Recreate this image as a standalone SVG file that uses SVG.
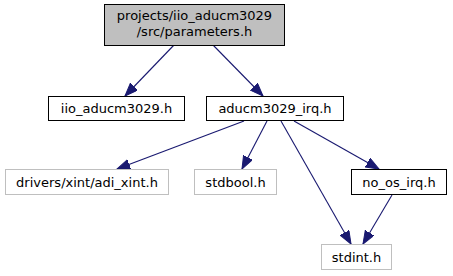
<svg xmlns="http://www.w3.org/2000/svg" width="453" height="276" viewBox="0 0 453 276">
  <style>
    .node rect { fill: #ffffff; stroke-width: 1; }
    .main rect { fill: #bfbfbf; stroke: #000000; }
    .black rect { stroke: #000000; }
    .grey rect { stroke: #bfbfbf; }
    text { font-family: "DejaVu Sans", "Liberation Sans", sans-serif; font-size: 13px; fill: #000000; text-anchor: middle; }
    .edge { stroke: #191970; stroke-width: 1.1; fill: none; marker-end: url(#arrow); }
  </style>
  <defs>
    <marker id="arrow" markerUnits="userSpaceOnUse" markerWidth="14" markerHeight="11" refX="13" refY="5" orient="auto">
      <path d="M0,0 L13,5 L0,10 z" fill="#191970" stroke="#191970" stroke-width="1"/>
    </marker>
  </defs>
  <rect width="453" height="276" fill="#ffffff"/>

  <g id="edges">
    <path class="edge" d="M174,45 L125,96"/>
    <path class="edge" d="M213,45 L263,96"/>
    <path class="edge" d="M244,121 L117,169"/>
    <path class="edge" d="M267,121 L242,169"/>
    <path class="edge" d="M281,121 L351,244"/>
    <path class="edge" d="M294,121 L379,169"/>
    <path class="edge" d="M392,195 L363,244"/>
  </g>

  <g id="node-parameters" class="node main">
    <rect x="104.5" y="4.5" width="180" height="41"/>
    <text x="194.5" y="20">projects/iio_aducm3029</text>
    <text x="194.5" y="36">/src/parameters.h</text>
  </g>

  <g id="node-iio-aducm3029" class="node black">
    <rect x="48.5" y="96.5" width="136" height="24"/>
    <text x="116.5" y="113">iio_aducm3029.h</text>
  </g>

  <g id="node-aducm3029-irq" class="node black">
    <rect x="206.5" y="96.5" width="137" height="24"/>
    <text x="275" y="113">aducm3029_irq.h</text>
  </g>

  <g id="node-adi-xint" class="node grey">
    <rect x="5.5" y="169.5" width="163" height="25"/>
    <text x="87" y="186.5">drivers/xint/adi_xint.h</text>
  </g>

  <g id="node-stdbool" class="node grey">
    <rect x="194.5" y="169.5" width="82" height="25"/>
    <text x="235.5" y="186.5">stdbool.h</text>
  </g>

  <g id="node-no-os-irq" class="node black">
    <rect x="351.5" y="169.5" width="95" height="25"/>
    <text x="399" y="186.5">no_os_irq.h</text>
  </g>

  <g id="node-stdint" class="node grey">
    <rect x="321.5" y="244.5" width="70" height="25"/>
    <text x="356.5" y="261.5">stdint.h</text>
  </g>
</svg>
